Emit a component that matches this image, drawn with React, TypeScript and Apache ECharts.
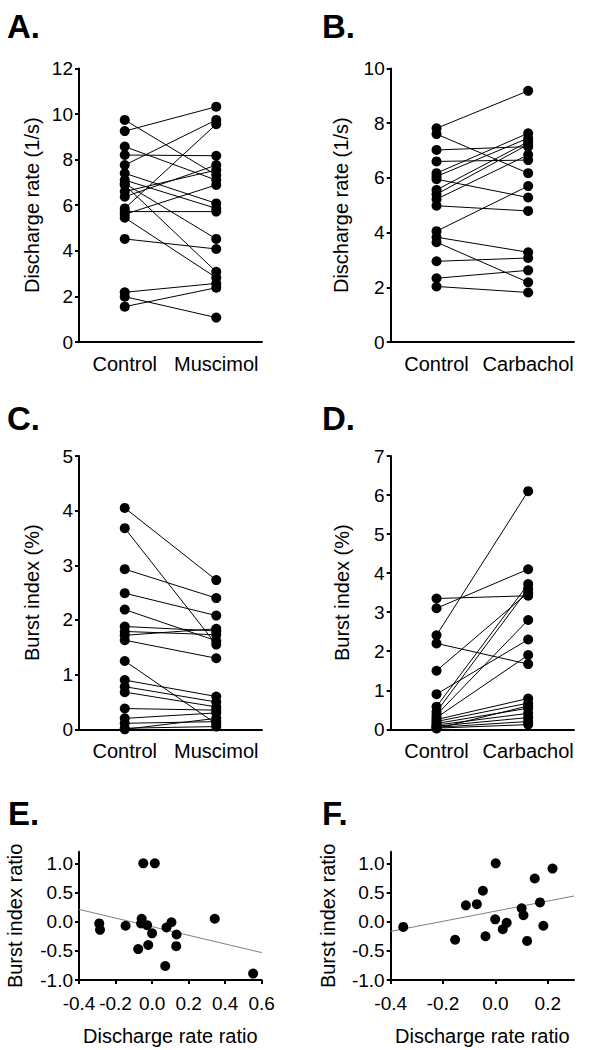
import React, { useEffect, useRef } from 'react';
import * as echarts from 'echarts';

// ---- Data ----
const categoriesA = ['Control', 'Muscimol'];
const categoriesB = ['Control', 'Carbachol'];

const rateControlA = [9.74, 9.25, 8.57, 8.2, 7.76, 7.4, 7.1, 6.95, 6.89, 6.6, 6.37, 5.86, 5.72, 5.6, 5.45, 4.52, 2.18, 1.99, 1.55];
const rateMuscimolA = [7.32, 10.32, 7.1, 8.17, 9.74, 6.08, 5.86, 4.52, 3.08, 7.54, 7.76, 9.55, 5.72, 6.89, 2.82, 4.08, 2.57, 1.07, 2.38];

const rateControlB = [7.81, 7.6, 7.02, 6.6, 6.17, 6.05, 5.95, 5.56, 5.4, 5.22, 4.98, 4.05, 3.83, 3.65, 2.95, 2.33, 2.03];
const rateCarbacholB = [9.18, 6.17, 7.14, 6.65, 7.63, 7.45, 5.28, 7.32, 7.22, 6.84, 4.79, 5.7, 3.28, 2.18, 3.07, 2.62, 1.81];

const burstControlC = [4.05, 3.68, 2.93, 2.49, 2.19, 1.88, 1.79, 1.72, 1.63, 1.25, 0.9, 0.78, 0.68, 0.38, 0.2, 0.11, 0.02, 0.0];
const burstMuscimolC = [2.73, 1.55, 2.4, 2.08, 1.62, 1.8, 1.73, 1.84, 1.3, 0.1, 0.6, 0.5, 0.41, 0.35, 0.3, 0.14, 0.05, 0.2];

const burstControlD = [3.35, 3.1, 2.41, 2.2, 1.5, 0.9, 0.58, 0.45, 0.37, 0.3, 0.25, 0.2, 0.15, 0.11, 0.08, 0.05, 0.03, 0.02];
const burstCarbacholD = [3.42, 4.1, 6.1, 1.67, 3.5, 2.3, 3.72, 3.6, 2.8, 1.9, 0.79, 0.67, 0.54, 0.41, 0.3, 0.2, 0.12, 0.6];

const rateRatioE = [-0.289, -0.285, -0.145, -0.076, -0.057, -0.06, -0.048, -0.027, -0.021, 0.0, 0.015, 0.072, 0.079, 0.106, 0.134, 0.132, 0.343, 0.553];
const burstRatioE = [-0.03, -0.14, -0.07, -0.47, 0.05, -0.03, 1.0, -0.06, -0.4, -0.2, 1.0, -0.76, -0.1, -0.01, -0.22, -0.42, 0.05, -0.89];
const fitE = [[-0.4, 0.21], [0.6, -0.53]];

const rateRatioF = [-0.352, -0.154, -0.113, -0.071, -0.048, -0.038, 0.001, -0.001, 0.028, 0.043, 0.1, 0.107, 0.121, 0.15, 0.17, 0.183, 0.218];
const burstRatioF = [-0.09, -0.31, 0.28, 0.3, 0.53, -0.25, 1.0, 0.04, -0.13, -0.02, 0.23, 0.11, -0.33, 0.74, 0.33, -0.07, 0.91];
const fitF = [[-0.4, -0.166], [0.3, 0.44]];

const ratioYTicks = [-1.0, -0.5, 0.0, 0.5, 1.0];
const ratioXTicksE = [-0.4, -0.2, 0.0, 0.2, 0.4, 0.6];
const ratioXTicksF = [-0.4, -0.2, 0.0, 0.2];

const panelLabels = ['A.', 'B.', 'C.', 'D.', 'E.', 'F.'];

const FONT = '"Liberation Sans", Arial, sans-serif';
const BLACK = '#000';

const axisLineStyle = { lineStyle: { color: BLACK, width: 2 } };
const tickStyle = { show: true, length: 4, inside: false, lineStyle: { color: BLACK, width: 2 } };

function catX(idx: number, cats: string[]) {
  return {
    gridIndex: idx,
    type: 'category',
    data: cats,
    boundaryGap: true,
    axisLine: axisLineStyle,
    axisTick: { show: false },
    axisLabel: { color: BLACK, fontSize: 20, margin: 12, interval: 0, fontFamily: FONT },
    splitLine: { show: false },
  };
}

function valY(idx: number, min: number, max: number, interval: number, name: string, gap: number) {
  return {
    gridIndex: idx,
    type: 'value',
    min,
    max,
    interval,
    name,
    nameLocation: 'middle',
    nameGap: gap,
    nameTextStyle: { color: BLACK, fontSize: 20, fontFamily: FONT },
    axisLine: { show: true, ...axisLineStyle },
    axisTick: tickStyle,
    axisLabel: { color: BLACK, fontSize: 19, margin: 6, fontFamily: FONT },
    splitLine: { show: false },
  };
}

function pairSeries(idx: number, a: number[], b: number[]) {
  const s: any[] = [];
  a.forEach((v, i) => {
    s.push({
      type: 'line',
      xAxisIndex: idx,
      yAxisIndex: idx,
      data: [v, b[i]],
      symbol: 'none',
      lineStyle: { color: BLACK, width: 1 },
      silent: true,
      z: 2,
    });
  });
  s.push({
    type: 'scatter',
    xAxisIndex: idx,
    yAxisIndex: idx,
    data: [...a.map((v) => [0, v]), ...b.map((v) => [1, v])],
    symbol: 'circle',
    symbolSize: 10,
    itemStyle: { color: BLACK, opacity: 1 },
    silent: true,
    z: 3,
  });
  return s;
}

function ratioSeries(idx: number, xs: number[], ys: number[], fit: number[][]) {
  return [
    {
      type: 'line',
      xAxisIndex: idx,
      yAxisIndex: idx,
      data: fit,
      symbol: 'none',
      lineStyle: { color: '#808080', width: 1 },
      silent: true,
      z: 2,
    },
    {
      type: 'scatter',
      xAxisIndex: idx,
      yAxisIndex: idx,
      data: xs.map((x, i) => [x, ys[i]]),
      symbol: 'circle',
      symbolSize: 10,
      itemStyle: { color: BLACK, opacity: 1 },
      silent: true,
      z: 3,
    },
  ];
}

function ratioX(idx: number, min: number, max: number, ticks: number[]) {
  return {
    gridIndex: idx,
    type: 'value',
    min,
    max,
    interval: 0.2,
    name: 'Discharge rate ratio',
    nameLocation: 'middle',
    nameGap: 46,
    nameTextStyle: { color: BLACK, fontSize: 20, fontFamily: FONT },
    axisLine: { show: true, onZero: false, ...axisLineStyle },
    axisTick: { ...tickStyle, customValues: ticks },
    axisLabel: {
      color: BLACK,
      fontSize: 19,
      margin: 14,
      fontFamily: FONT,
      customValues: ticks,
      formatter: (v: number) => v.toFixed(1),
    },
    splitLine: { show: false },
  };
}

function ratioY(idx: number, gap: number) {
  return {
    gridIndex: idx,
    type: 'value',
    min: -1,
    max: 1.2,
    interval: 0.5,
    name: 'Burst index ratio',
    nameLocation: 'middle',
    nameGap: gap,
    nameTextStyle: { color: BLACK, fontSize: 20, fontFamily: FONT },
    axisLine: { show: true, onZero: false, ...axisLineStyle },
    axisTick: { ...tickStyle, customValues: ratioYTicks },
    axisLabel: {
      color: BLACK,
      fontSize: 19,
      margin: 6,
      fontFamily: FONT,
      customValues: ratioYTicks,
      formatter: (v: number) => v.toFixed(1),
    },
    splitLine: { show: false },
  };
}

const labelPos = [
  [7, 26.5],
  [322, 26.5],
  [7, 418],
  [322, 418],
  [8, 813],
  [322, 813],
];

export default function App() {
  const ref = useRef<HTMLDivElement>(null);
  useEffect(() => {
    if (!ref.current) return;
    const chart = echarts.init(ref.current, undefined, { renderer: 'svg' });
    const grids = [
      { left: 79, top: 68.4, width: 183, height: 273.6 },
      { left: 390.7, top: 68.4, width: 183.3, height: 273.6 },
      { left: 79, top: 456, width: 183, height: 273.3 },
      { left: 390.7, top: 456, width: 183.3, height: 273.3 },
      { left: 79, top: 851.7, width: 182.7, height: 128.3 },
      { left: 390.7, top: 851.7, width: 183.3, height: 128.3 },
    ].map((g) => ({ ...g, containLabel: false, outerBoundsMode: 'none' }));

    const option: any = {
      animation: false,
      backgroundColor: '#fff',
      textStyle: { fontFamily: FONT, color: BLACK },
      grid: grids,
      xAxis: [
        catX(0, categoriesA),
        catX(1, categoriesB),
        catX(2, categoriesA),
        catX(3, categoriesB),
        ratioX(4, -0.4, 0.6, ratioXTicksE),
        ratioX(5, -0.4, 0.3, ratioXTicksF),
      ],
      yAxis: [
        valY(0, 0, 12, 2, 'Discharge rate (1/s)', 37),
        valY(1, 0, 10, 2, 'Discharge rate (1/s)', 40),
        valY(2, 0, 5, 1, 'Burst index (%)', 37),
        valY(3, 0, 7, 1, 'Burst index (%)', 39),
        ratioY(4, 54),
        ratioY(5, 53),
      ],
      series: [
        ...pairSeries(0, rateControlA, rateMuscimolA),
        ...pairSeries(1, rateControlB, rateCarbacholB),
        ...pairSeries(2, burstControlC, burstMuscimolC),
        ...pairSeries(3, burstControlD, burstCarbacholD),
        ...ratioSeries(4, rateRatioE, burstRatioE, fitE),
        ...ratioSeries(5, rateRatioF, burstRatioF, fitF),
      ],
      graphic: panelLabels.map((t, i) => ({
        type: 'text',
        x: labelPos[i][0],
        y: labelPos[i][1],
        silent: true,
        style: {
          text: t,
          fill: BLACK,
          font: `bold 33px ${FONT}`,
          textAlign: 'left',
          textVerticalAlign: 'middle',
          verticalAlign: 'middle',
        },
      })),
    };
    chart.setOption(option);
    return () => chart.dispose();
  }, []);
  return (
    <div
      ref={ref}
      style={{ position: 'absolute', left: 0, top: 0, width: 609, height: 1050 }}
    />
  );
}
